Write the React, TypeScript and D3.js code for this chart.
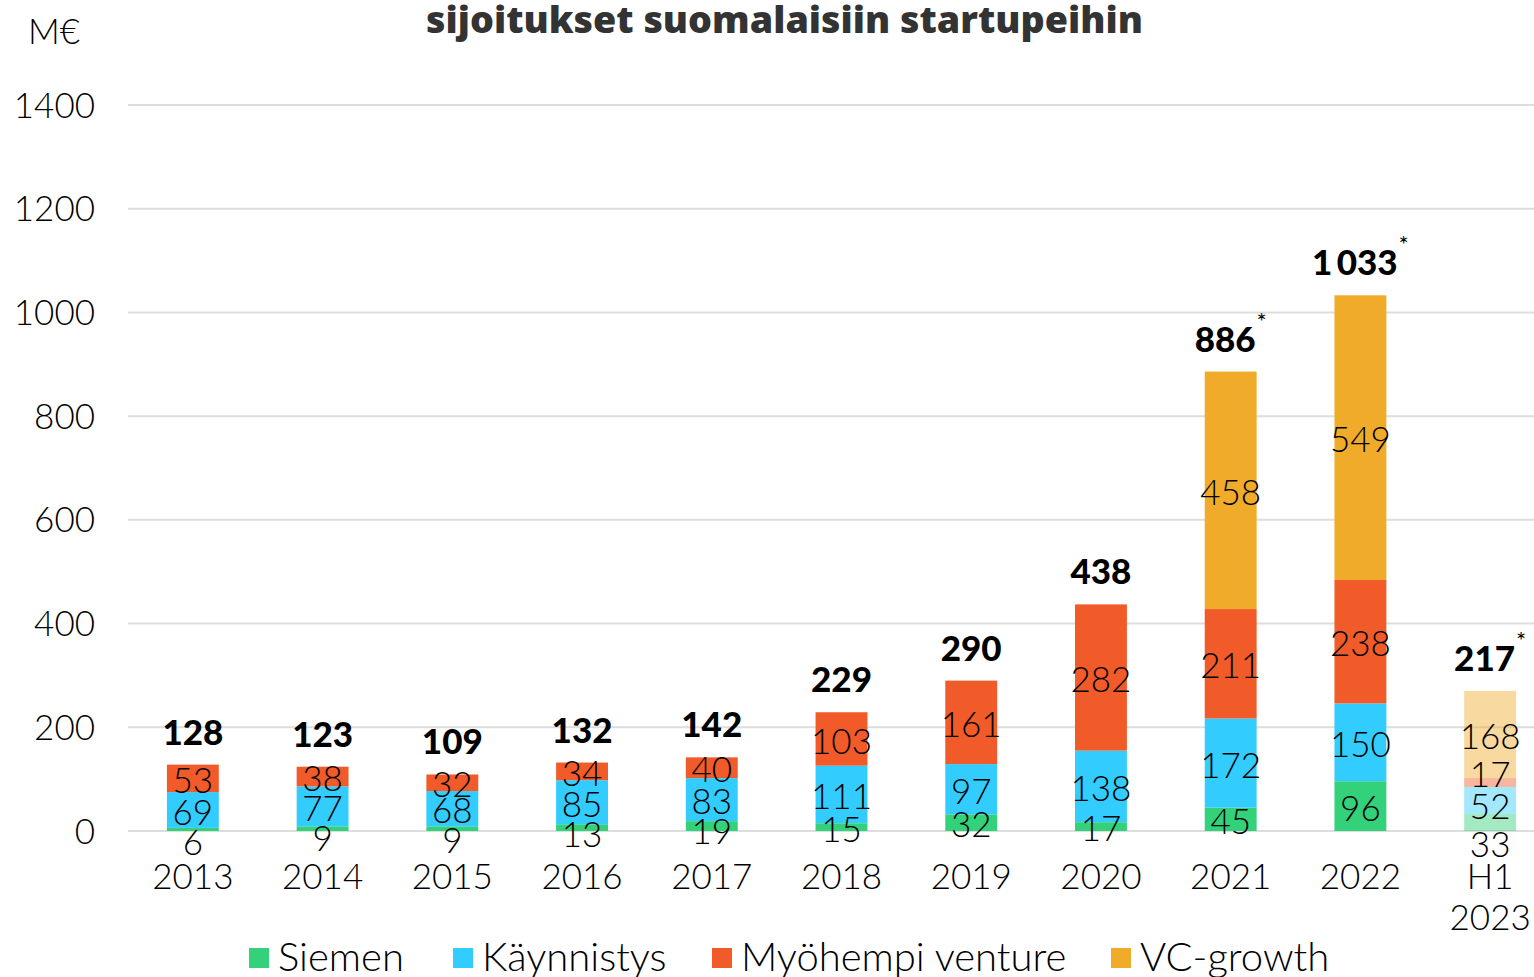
import React from "react";
import * as d3 from "d3";

const categories = ["2013", "2014", "2015", "2016", "2017", "2018", "2019", "2020", "2021", "2022", "H1\n2023"];
const siemen = [6, 9, 9, 13, 19, 15, 32, 17, 45, 96, 33];
const kaynnistys = [69, 77, 68, 85, 83, 111, 97, 138, 172, 150, 52];
const myohempi = [53, 38, 32, 34, 40, 103, 161, 282, 211, 238, 17];
const vcGrowth = [0, 0, 0, 0, 0, 0, 0, 0, 458, 549, 168];
const totalLabels = ["128", "123", "109", "132", "142", "229", "290", "438", "886", "1\u2009033", "217"];
const totalStar = [false, false, false, false, false, false, false, false, true, true, true];
const yTicks = [0, 200, 400, 600, 800, 1000, 1200, 1400];
const seriesNames = ["Siemen", "Käynnistys", "Myöhempi venture", "VC-growth"];
const seriesColors = ["#33D17A", "#33CCFF", "#F15A29", "#F0AB2A"];

const W = 1534;
const H = 977;
const FONT = "Lato, 'Open Sans', sans-serif";

export default function App() {
  const x = d3.scaleBand<string>().domain(categories).range([128, 1555]).paddingInner(0.6).paddingOuter(0.3);
  const y = d3.scaleLinear().domain([0, 1400]).range([831, 105]);
  const series = [siemen, kaynnistys, myohempi, vcGrowth];
  const rows = categories.map((c, i) => ({
    cat: c,
    Siemen: siemen[i],
    "Käynnistys": kaynnistys[i],
    "Myöhempi venture": myohempi[i],
    "VC-growth": vcGrowth[i],
  }));
  const stack = d3.stack<any>().keys(seriesNames)(rows);

  const bars: any[] = [];
  const labels: any[] = [];
  categories.forEach((c, i) => {
    const isLast = i === categories.length - 1;
    const segLabels: { v: number; cy: number }[] = [];
    stack.forEach((layer, k) => {
      const [y0, y1] = layer[i];
      const v = series[k][i];
      if (v <= 0) return;
      bars.push(
        <rect
          key={`b-${i}-${k}`}
          x={x(c)}
          width={x.bandwidth()}
          y={y(y1)}
          height={y(y0) - y(y1)}
          fill={seriesColors[k]}
          fillOpacity={isLast ? 0.45 : 1}
        />
      );
      segLabels.push({ v, cy: (y(y0) + y(y1)) / 2 });
    });
    // simple collision handling
    if (segLabels.length > 1) {
      for (let j = 2; j < segLabels.length; j++) {
        if (segLabels[j - 1].cy - segLabels[j].cy < 22) {
          segLabels[j].cy = segLabels[j - 1].cy - 28;
          segLabels[j - 1].cy += 4;
        }
      }
      const gap = segLabels.length > 3 ? 38 : 30;
      if (segLabels[0].cy - segLabels[1].cy < gap) {
        segLabels[0].cy = segLabels[1].cy + gap;
      }
    }
    segLabels.forEach((s, j) =>
      labels.push(
        <text
          key={`l-${i}-${j}`}
          x={(x(c) as number) + x.bandwidth() / 2}
          y={s.cy + 2}
          dy="0.36em"
          textAnchor="middle"
          fontSize={35}
          fontWeight={300}
          fill="#000"
        >
          {s.v}
        </text>
      )
    );
    const total = stack[stack.length - 1][i][1];
    const cx = (x(c) as number) + x.bandwidth() / 2;
    labels.push(
      <text key={`t-${i}`} x={cx} y={y(total) - 20} textAnchor="middle" fontSize={35} fontWeight={900} fill="#000">
        {totalLabels[i]}
        {totalStar[i] ? (
          <tspan fontSize={24} fontWeight={400} dx={1} dy={-22}>
            *
          </tspan>
        ) : null}
      </text>
    );
  });

  const legendX = [249, 453, 712, 1111];

  return (
    <svg width={W} height={H} style={{ position: "absolute", left: 0, top: 0 }} fontFamily={FONT}>
      <rect width={W} height={H} fill="#fff" />
      <text
        x={426}
        y={33}
        fontSize={37}
        fontWeight={800}
        fill="#333"
        fontFamily="'Open Sans', Lato, sans-serif"
        textLength={717}
        lengthAdjust="spacingAndGlyphs"
      >
        sijoitukset suomalaisiin startupeihin
      </text>
      <text x={28} y={44} fontSize={35} fontWeight={300} fill="#000">
        M€
      </text>
      {yTicks.map((t) => (
        <g key={t}>
          <line x1={128} x2={W} y1={y(t)} y2={y(t)} stroke="#dddddd" strokeWidth={2} />
          <text x={95} y={y(t)} dy="0.36em" textAnchor="end" fontSize={35} fontWeight={300} fill="#000">
            {t}
          </text>
        </g>
      ))}
      {bars}
      {labels}
      {categories.map((c) => {
        const parts = c.split("\n");
        const cx = (x(c) as number) + x.bandwidth() / 2;
        return (
          <text key={`x-${c}`} x={cx} y={889} textAnchor="middle" fontSize={35} fontWeight={300} fill="#000">
            {parts.map((p, j) => (
              <tspan key={j} x={cx} dy={j === 0 ? 0 : 41}>
                {p}
              </tspan>
            ))}
          </text>
        );
      })}
      {seriesNames.map((n, k) => (
        <g key={n}>
          <rect x={legendX[k]} y={948} width={20} height={20} fill={seriesColors[k]} />
          <text x={legendX[k] + 29} y={971} fontSize={40} fontWeight={300} fill="#000">
            {n}
          </text>
        </g>
      ))}
    </svg>
  );
}
